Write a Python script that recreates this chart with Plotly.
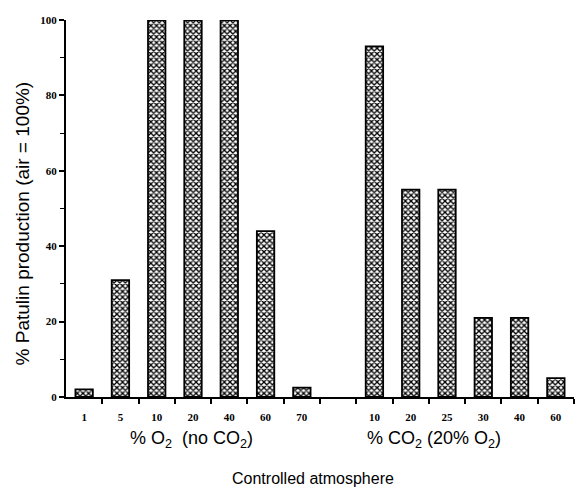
import plotly.graph_objects as go

# Data
o2_labels = ["1", "5", "10", "20", "40", "60", "70"]
o2_values = [2, 31, 100, 100, 100, 44, 2.5]
co2_labels = ["10", "20", "25", "30", "40", "60"]
co2_values = [93, 55, 55, 21, 21, 5]

y_tickvals = [0, 20, 40, 60, 80, 100]
y_ticktext = ["0", "20", "40", "60", "80", "100"]

# category slots: O2 group, one empty slot, CO2 group
o2_x = list(range(len(o2_labels)))
co2_x = [len(o2_labels) + 1 + i for i in range(len(co2_labels))]
n_slots = len(o2_labels) + 1 + len(co2_labels)

bar_style = dict(
    color="white",
    line=dict(color="black", width=1.8),
    pattern=dict(shape="x", size=4, solidity=0.55, fgcolor="black",
                 bgcolor="white", fillmode="replace"),
)

fig = go.Figure()
fig.add_trace(go.Bar(x=o2_x, y=o2_values, width=0.48, marker=bar_style,
                     showlegend=False))
fig.add_trace(go.Bar(x=co2_x, y=co2_values, width=0.48, marker=bar_style,
                     showlegend=False))

tickfont = dict(family="Liberation Serif", size=11, color="black", weight="bold")

fig.update_layout(
    width=575, height=491,
    margin=dict(l=66, r=1, t=20, b=94),
    paper_bgcolor="white", plot_bgcolor="white",
    xaxis=dict(
        range=[-0.5, n_slots - 0.5],
        tickmode="array",
        tickvals=o2_x + co2_x,
        ticktext=o2_labels + co2_labels,
        ticks="", showgrid=False, zeroline=False,
        showline=True, linecolor="black", linewidth=1.5,
        tickfont=tickfont, ticklabelstandoff=9,
        minor=dict(tickmode="array",
                   tickvals=[i + 0.5 for i in range(n_slots)],
                   ticks="outside", ticklen=5, tickwidth=1.5,
                   tickcolor="black", showgrid=False),
    ),
    yaxis=dict(
        range=[0, 100],
        tickmode="array", tickvals=y_tickvals, ticktext=y_ticktext,
        ticks="outside", ticklen=5, tickwidth=1.5, tickcolor="black",
        showgrid=False, zeroline=False,
        showline=True, linecolor="black", linewidth=2,
        tickfont=tickfont,
        minor=dict(tickmode="array", tickvals=[10, 30, 50, 70, 90],
                   ticks="outside", ticklen=4, tickwidth=1.2,
                   tickcolor="black", showgrid=False),
    ),
    bargap=0.5,
)

group_font = dict(family="Liberation Sans", size=18, color="black")

fig.add_annotation(text="% O<sub>2</sub>  (no CO<sub>2</sub>)",
                   xref="paper", yref="paper", x=0.248, y=-0.114,
                   showarrow=False, font=group_font, xanchor="center",
                   yanchor="middle")
fig.add_annotation(text="% CO<sub>2</sub> (20% O<sub>2</sub>)",
                   xref="paper", yref="paper", x=0.724, y=-0.114,
                   showarrow=False, font=group_font, xanchor="center",
                   yanchor="middle")
fig.add_annotation(text="Controlled atmosphere",
                   xref="paper", yref="paper", x=0.486, y=-0.217,
                   showarrow=False, font=dict(family="Liberation Sans", size=16,
                                              color="black"),
                   xanchor="center", yanchor="middle")
fig.add_annotation(text="% Patulin production (air = 100%)",
                   xref="paper", yref="paper", x=-0.085, y=0.46,
                   showarrow=False, textangle=-90,
                   font=dict(family="Liberation Sans", size=19, color="black"),
                   xanchor="center", yanchor="middle")

fig.write_html("out.html")
